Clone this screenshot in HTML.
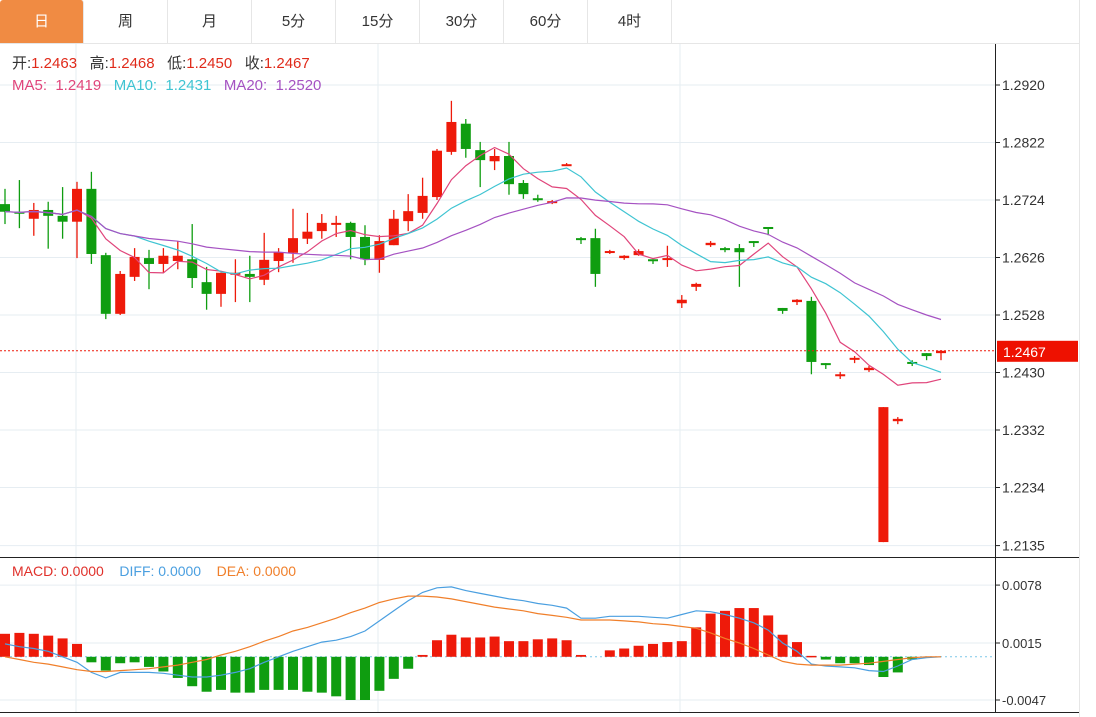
<!DOCTYPE html>
<html><head><meta charset="utf-8">
<style>
html,body{margin:0;padding:0;background:#fff;}
body{width:1096px;height:717px;position:relative;overflow:hidden;font-family:"Liberation Sans","Noto Sans CJK SC",sans-serif;}
.tabs{position:absolute;left:0;top:0;height:43px;width:1080px;border-bottom:1px solid #e6e6e6;display:flex;}
.tab{width:83px;height:43px;border-right:1px solid #e6e6e6;text-align:center;line-height:43px;font-size:15px;color:#333;}
.tab.on{background:#f08b43;color:#fff;border-radius:3px 3px 0 0;}
svg{position:absolute;left:0;top:0;}
</style></head><body>
<div class="tabs">
<div class="tab on">日</div>
<div class="tab">周</div>
<div class="tab">月</div>
<div class="tab">5分</div>
<div class="tab">15分</div>
<div class="tab">30分</div>
<div class="tab">60分</div>
<div class="tab">4时</div>
</div>
<svg id="c" width="1096" height="717"></svg>
<script>
const opens=[1.2717,1.2704,1.2692,1.2707,1.2697,1.2687,1.2743,1.2630,1.2530,1.2593,1.2625,1.2615,1.2620,1.2623,1.2584,1.2564,1.2598,1.2598,1.2588,1.2620,1.2634,1.2658,1.2671,1.2683,1.2685,1.2661,1.2622,1.2647,1.2688,1.2702,1.2729,1.2806,1.2854,1.2809,1.2790,1.2799,1.2753,1.2727,1.2719,1.2784,1.2659,1.2659,1.2634,1.2625,1.2630,1.2623,1.2623,1.2548,1.2576,1.2647,1.2642,1.2642,1.2654,1.2678,1.2540,1.2550,1.2552,1.2446,1.2424,1.2453,1.2434,1.2141,1.2347,1.2448,1.2463,1.2463];
const highs=[1.2743,1.2758,1.2719,1.2721,1.2746,1.2755,1.2772,1.2634,1.2603,1.2642,1.2639,1.2642,1.2654,1.2683,1.2610,1.2600,1.2623,1.2629,1.2668,1.2642,1.2709,1.2702,1.2700,1.2697,1.2687,1.2681,1.2664,1.2707,1.2734,1.2762,1.2811,1.2893,1.2862,1.2823,1.2811,1.2823,1.2758,1.2733,1.2724,1.2787,1.2661,1.2675,1.2639,1.2630,1.2640,1.2623,1.2646,1.2562,1.2583,1.2654,1.2644,1.2649,1.2654,1.2678,1.2540,1.2555,1.2559,1.2446,1.2431,1.2458,1.2441,1.2371,1.2354,1.2451,1.2463,1.2468];
const lows=[1.2683,1.2676,1.2663,1.2641,1.2658,1.2625,1.2615,1.2521,1.2528,1.2586,1.2572,1.2600,1.2606,1.2574,1.2537,1.2542,1.2550,1.2550,1.2579,1.2601,1.2617,1.2649,1.2658,1.2661,1.2623,1.2613,1.2600,1.2647,1.2671,1.2692,1.2724,1.2801,1.2796,1.2746,1.2775,1.2733,1.2726,1.2721,1.2717,1.2782,1.2649,1.2576,1.2632,1.2622,1.2629,1.2615,1.2610,1.2540,1.2569,1.2644,1.2635,1.2576,1.2644,1.2664,1.2530,1.2545,1.2427,1.2436,1.2419,1.2446,1.2431,1.2141,1.2342,1.2441,1.2451,1.2451];
const closes=[1.2704,1.2702,1.2707,1.2697,1.2687,1.2743,1.2632,1.2530,1.2598,1.2627,1.2615,1.2629,1.2629,1.2591,1.2564,1.2600,1.2600,1.2593,1.2622,1.2635,1.2659,1.2670,1.2685,1.2685,1.2661,1.2623,1.2654,1.2692,1.2705,1.2731,1.2808,1.2857,1.2811,1.2792,1.2799,1.2751,1.2734,1.2726,1.2722,1.2785,1.2658,1.2598,1.2637,1.2629,1.2637,1.2620,1.2625,1.2554,1.2581,1.2651,1.2641,1.2635,1.2651,1.2675,1.2535,1.2554,1.2448,1.2443,1.2427,1.2455,1.2438,1.2371,1.2351,1.2446,1.2458,1.2467];
const priceTicks=[1.2920,1.2822,1.2724,1.2626,1.2528,1.2430,1.2332,1.2234,1.2135];
const macdBars=[0.0025,0.0026,0.0025,0.0023,0.0020,0.0014,-0.0006,-0.0015,-0.0007,-0.0006,-0.0011,-0.0016,-0.0023,-0.0032,-0.0038,-0.0036,-0.0039,-0.0039,-0.0036,-0.0036,-0.0036,-0.0038,-0.0039,-0.0043,-0.0047,-0.0047,-0.0037,-0.0024,-0.0013,0.0002,0.0018,0.0024,0.0021,0.0021,0.0022,0.0017,0.0017,0.0019,0.0020,0.0018,0.0002,0,0.0007,0.0009,0.0012,0.0014,0.0016,0.0017,0.0032,0.0047,0.0050,0.0053,0.0053,0.0045,0.0024,0.0016,0.0001,-0.0003,-0.0007,-0.0007,-0.0009,-0.0022,-0.0017,-0.0003,0,0];
const diffLine=[0.0014,0.0011,0.0009,0.0006,0,-0.0006,-0.0017,-0.0023,-0.0017,-0.0017,-0.0017,-0.0018,-0.0020,-0.0022,-0.0022,-0.0020,-0.0017,-0.0013,-0.0006,0,0.0006,0.0011,0.0016,0.0018,0.0022,0.0028,0.0039,0.0050,0.0061,0.0070,0.0075,0.0076,0.0072,0.0069,0.0066,0.0063,0.0061,0.0058,0.0056,0.0053,0.0042,0.0042,0.0044,0.0044,0.0044,0.0043,0.0042,0.0046,0.0050,0.0049,0.0046,0.0042,0.0037,0.0029,0.0015,0.0006,-0.0008,-0.0010,-0.0011,-0.0012,-0.0015,-0.0016,-0.0010,-0.0003,-0.0001,0];
const deaLine=[0,-0.0003,-0.0006,-0.0008,-0.0011,-0.0014,-0.0016,-0.0016,-0.0015,-0.0014,-0.0013,-0.0011,-0.0009,-0.0006,-0.0003,0.0002,0.0006,0.0011,0.0017,0.0022,0.0028,0.0032,0.0037,0.0042,0.0048,0.0053,0.0059,0.0063,0.0066,0.0066,0.0065,0.0063,0.0060,0.0057,0.0054,0.0052,0.0050,0.0047,0.0045,0.0043,0.0040,0.0040,0.0040,0.0039,0.0038,0.0036,0.0035,0.0033,0.0031,0.0026,0.0020,0.0015,0.0009,0.0002,-0.0005,-0.0008,-0.0009,-0.0009,-0.0009,-0.0008,-0.0007,-0.0005,-0.0003,-0.0001,0,0];
const macdTicks=[0.0078,0.0015,-0.0047];

const svg=document.getElementById('c');
const NS='http://www.w3.org/2000/svg';
function mk(tag,attrs,parent){const e=document.createElementNS(NS,tag);for(const k in attrs)e.setAttribute(k,attrs[k]);(parent||svg).appendChild(e);return e;}
const X=i=>5+14.4*i;
const Y=p=>85+(1.2920-p)/0.0098*57.5;
const MY=v=>643+(0.0015-v)/0.0062*57;
const RED='#ee1a0a',GREEN='#0f9d10';

// frame
let g=mk('g',{});
[76,378,680].forEach(x=>{mk('line',{x1:x,y1:44,x2:x,y2:712,stroke:'#e6edf2','stroke-width':1},g);});
priceTicks.forEach(p=>{mk('line',{x1:0,y1:Y(p),x2:995,y2:Y(p),stroke:'#e6edf2'},g);});
macdTicks.forEach(v=>{mk('line',{x1:0,y1:MY(v),x2:995,y2:MY(v),stroke:'#e6edf2'},g);});
mk('line',{x1:1079.5,y1:0,x2:1079.5,y2:717,stroke:'#e6e6e6'});
mk('line',{x1:0,y1:557.5,x2:1079,y2:557.5,stroke:'#222'});
mk('line',{x1:0,y1:712.5,x2:1079,y2:712.5,stroke:'#222'});
mk('line',{x1:995.5,y1:44,x2:995.5,y2:712,stroke:'#222'});

// y axis labels
let ax=mk('g',{});
priceTicks.forEach(p=>{mk('line',{x1:995,y1:Y(p),x2:1000,y2:Y(p),stroke:'#222'},ax);const t=mk('text',{x:1002,y:Y(p)+5,'font-size':14,fill:'#333'},ax);t.textContent=p.toFixed(4);});
let ax2=mk('g',{});
macdTicks.forEach(v=>{mk('line',{x1:995,y1:MY(v),x2:1000,y2:MY(v),stroke:'#222'},ax2);const t=mk('text',{x:1002,y:MY(v)+5,'font-size':13,fill:'#333'},ax2);t.textContent=(v<0?'-':'')+Math.abs(v).toFixed(4);});

// candles
closes.forEach((c,i)=>{
  const o=opens[i],col=c>=o?RED:GREEN,x=X(i);
  const cg=mk('g',{});
  
  
  mk('line',{x1:x,y1:Y(highs[i]),x2:x,y2:Y(lows[i]),stroke:col,'stroke-width':1.3},cg);
  const top=Math.min(Y(o),Y(c)),h=Math.max(2,Math.abs(Y(o)-Y(c)));
  mk('rect',{x:x-5,y:top,width:10,height:h,fill:col},cg);
});
// MAs
function ma(n){return closes.map((_,i)=>{const s=Math.max(0,i-n+1);let t=0;for(let k=s;k<=i;k++)t+=closes[k];return t/(i-s+1);});}
[[5,'#e0457b','ma5-line'],[10,'#3fc4d2','ma10-line'],[20,'#a552c2','ma20-line']].forEach(([n,col,name])=>{
  const v=ma(n);const d=v.map((p,i)=>(i?'L':'M')+X(i).toFixed(1)+' '+Y(p).toFixed(1)).join(' ');
  const pth=mk('path',{d:d,fill:'none',stroke:col,'stroke-width':1.2});
  
  
});
// last price line
const lp=closes[closes.length-1];
mk('line',{x1:0,y1:Y(lp),x2:995,y2:Y(lp),stroke:RED,'stroke-dasharray':'2,2','stroke-width':1});
const tag=mk('g',{});
mk('rect',{x:997,y:Y(lp)-10,width:81,height:21,fill:'#ee1100'},tag);
const tt=mk('text',{x:1003,y:Y(lp)+6,'font-size':14,fill:'#fff'},tag);tt.textContent=lp.toFixed(4);

// MACD
mk('line',{x1:0,y1:MY(0),x2:995,y2:MY(0),stroke:'#7cc7e8','stroke-dasharray':'2,3'});
macdBars.forEach((v,i)=>{
  if(v===0)return;
  const r=mk('rect',{x:X(i)-5,y:Math.min(MY(0),MY(v)),width:10,height:Math.max(1.5,Math.abs(MY(v)-MY(0))),fill:v>0?RED:GREEN});
  
  
});
[[diffLine,'#4a9fe0','diff-line'],[deaLine,'#f07f2a','dea-line']].forEach(([arr,col,name])=>{
  const d=arr.map((v,i)=>(i?'L':'M')+X(i).toFixed(1)+' '+MY(v).toFixed(1)).join(' ');
  const pth=mk('path',{d:d,fill:'none',stroke:col,'stroke-width':1.2});
  
  
});

// legends
function leg(x,y,parts,fs,name){const t=mk('text',{x:x,y:y,'font-size':fs});
  parts.forEach(([s,c])=>{const sp=mk('tspan',{fill:c},t);sp.textContent=s;});}
leg(12,68,[['开:','#333'],['1.2463   ','#e02a1a'],['高:','#333'],['1.2468   ','#e02a1a'],['低:','#333'],['1.2450   ','#e02a1a'],['收:','#333'],['1.2467','#e02a1a']],15,'ohlc-legend');
leg(12,90,[['MA5:  1.2419   ','#e0457b'],['MA10:  1.2431   ','#3fc4d2'],['MA20:  1.2520','#a552c2']],15,'ma-legend');
leg(12,576,[['MACD: 0.0000    ','#e0302a'],['DIFF: 0.0000    ','#4a9fe0'],['DEA: 0.0000','#f07f2a']],14,'macd-legend');
document.querySelectorAll('#c text').forEach(t=>t.setAttribute('xml:space','preserve'));
document.querySelectorAll('#c text').forEach(t=>t.style.whiteSpace='pre');
</script>
</body></html>
